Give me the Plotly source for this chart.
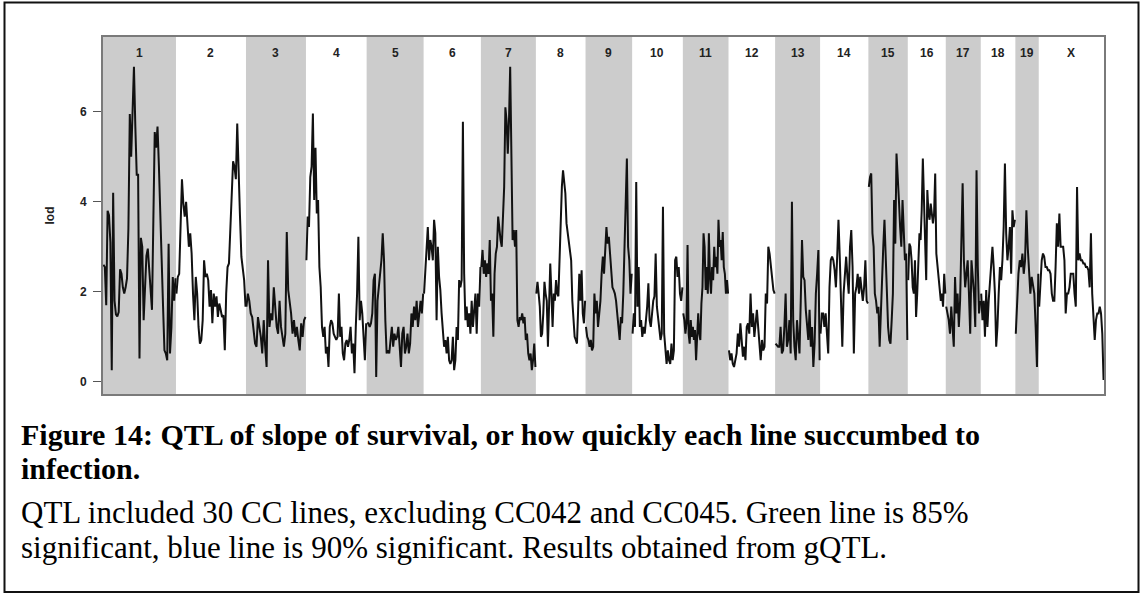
import plotly.graph_objects as go

# Chromosome names and lengths (Mb, including the inter-chromosome spacing)
chr_names = ["1", "2", "3", "4", "5", "6", "7", "8", "9", "10",
             "11", "12", "13", "14", "15", "16", "17", "18", "19", "X"]
chr_len = [197.5, 189.4, 162.3, 164.2, 154.2, 155.0, 148.8, 134.4, 126.1, 137.2,
           123.6, 126.1, 121.7, 130.7, 106.6, 102.8, 94.7, 93.6, 63.3, 176.6]

# LOD scores along each chromosome (markers evenly spaced within a chromosome)
lod_1 = [2.6, 2.55, 1.7, 3.8, 3.7, 3.1, 0.26, 4.2, 1.8, 1.5, 1.45, 1.55, 2.5, 2.4, 2.1,
         1.96, 2.1, 2.3, 3.4, 5.95, 5.0, 6.2, 7.0, 5.67, 4.6, 4.6, 0.52, 3.2, 3.0, 1.37,
         2.26, 2.8, 2.96, 2.55, 1.96, 1.6, 3.6, 5.55, 5.2, 5.67, 4.8, 3.96, 2.7, 1.67,
         0.7, 0.63, 0.48, 3.07, 0.63, 1.2, 2.33, 1.8, 2.3]
lod_2 = [1.96, 2.33, 2.4, 3.3, 4.5, 3.96, 3.67, 4.0, 3.44, 3.0, 3.3, 2.85, 1.96, 1.37,
         2.33, 1.96, 1.22, 0.85, 0.93, 1.37, 2.7, 2.33, 2.4, 2.26, 1.67, 2.04, 1.3, 1.96,
         1.67, 1.9, 1.44, 1.74, 1.6, 1.44, 1.48, 0.7, 1.96, 2.55, 2.63, 3.37, 3.8, 4.9,
         4.78, 4.5, 5.74, 4.5, 3.67, 2.78, 2.55, 2.26, 1.67]
lod_3 = [1.67, 1.96, 1.8, 1.52, 1.44, 1.07, 0.85, 0.78, 1.44, 1.22, 1.0, 0.63, 1.37, 0.78,
         0.33, 2.7, 1.22, 1.52, 1.37, 2.1, 1.52, 1.22, 1.07, 1.8, 1.22, 1.0, 0.78, 1.07,
         3.33, 2.04, 1.8, 1.52, 1.07, 1.37, 1.0, 1.22, 0.93, 0.7, 1.3, 1.0, 1.37, 1.44]
lod_4 = [2.7, 3.67, 3.44, 4.55, 4.78, 5.96, 4.04, 5.2, 3.74, 4.04, 2.55, 2.1, 1.22, 1.0,
         1.22, 0.63, 0.78, 0.33, 1.22, 1.37, 1.3, 1.07, 1.0, 0.93, 1.0, 1.96, 1.0, 1.22,
         0.63, 0.48, 0.85, 0.93, 0.78, 0.93, 1.22, 0.63, 0.85, 0.19, 1.22, 1.96, 3.22,
         1.37, 1.8, 1.52, 1.0, 0.48, 1.3]
lod_5 = [1.3, 1.3, 1.22, 1.3, 1.52, 2.26, 2.4, 0.11, 1.8, 2.1, 2.55, 2.7, 3.3, 2.7, 1.37,
         0.63, 0.7, 0.63, 0.93, 1.22, 0.78, 1.07, 0.93, 1.0, 1.22, 0.85, 0.33, 1.07, 1.22,
         0.63, 0.78, 1.07, 0.63, 0.85, 1.52, 1.22, 1.67, 1.37, 1.8, 1.22, 1.52, 1.8, 1.52,
         1.96]
lod_6 = [1.96, 2.55, 3.0, 3.44, 2.7, 3.15, 3.0, 2.7, 3.6, 3.3, 1.37, 3.0, 2.33, 2.04, 1.52,
         1.22, 0.78, 0.93, 0.63, 1.0, 0.48, 0.4, 0.48, 1.0, 0.26, 0.48, 1.22, 0.93, 2.26,
         2.1, 2.26, 5.78, 2.4, 1.37, 1.67, 1.22, 1.52, 1.07, 1.8, 1.22, 1.52, 1.96, 1.07,
         1.96, 1.67, 2.55]
lod_7 = [2.55, 2.93, 2.4, 2.7, 2.33, 2.63, 2.4, 3.15, 1.8, 1.96, 1.0, 2.4, 2.85, 3.0, 3.67,
         3.3, 3.15, 3.0, 3.6, 4.33, 6.1, 5.8, 5.07, 5.8, 7.0, 5.07, 3.15, 3.37, 3.0, 3.37,
         1.37, 1.22, 1.44, 1.37, 1.52, 1.3, 1.44, 0.93, 1.07, 0.63, 0.48, 0.63, 0.26, 0.48,
         0.85, 0.33]
lod_8 = [1.96, 2.22, 1.96, 1.67, 1.0, 1.07, 1.52, 2.22, 1.96, 1.8, 0.78, 1.52, 2.63, 1.96,
         1.22, 1.96, 1.8, 2.26, 1.96, 1.9, 2.85, 3.44, 4.33, 4.7, 4.33, 4.19, 3.52, 3.3,
         3.15, 3.0, 2.7, 1.8, 1.37, 1.0, 0.93, 0.85, 1.6, 2.4, 1.8, 2.48, 1.52, 1.3, 1.8]
lod_9 = [1.22, 1.0, 0.93, 0.78, 0.93, 0.7, 0.78, 1.96, 1.52, 1.8, 1.22, 1.52, 1.8, 2.4,
         2.78, 2.4, 2.85, 3.44, 3.07, 3.22, 2.85, 2.4, 2.1, 2.04, 1.96, 1.8, 1.44, 1.22,
         0.93, 1.44, 1.3, 1.96, 2.85, 3.52, 4.96, 3.0, 2.7, 1.96, 2.4]
lod_10 = [1.07, 1.52, 1.22, 4.44, 1.67, 2.55, 1.22, 1.37, 1.0, 1.22, 1.07, 1.37, 1.67, 2.19,
          1.37, 1.22, 1.52, 1.8, 1.9, 2.85, 1.67, 1.37, 1.22, 0.93, 1.07, 3.89, 1.07, 0.63,
          0.4, 0.7, 0.48, 0.4, 0.85, 0.48, 0.7, 2.7, 2.78, 2.33, 2.55, 1.96, 1.8, 2.1]
lod_11 = [1.52, 1.37, 1.07, 1.3, 3.04, 1.07, 0.85, 1.37, 1.0, 1.22, 0.93, 1.15, 0.48, 1.22,
          1.52, 1.07, 0.93, 1.74, 2.1, 3.3, 3.0, 2.04, 2.55, 1.96, 3.3, 2.33, 1.96, 2.55,
          2.26, 3.0, 2.55, 2.78, 2.4, 3.6, 3.0, 3.15, 2.7, 3.33, 2.55, 2.4, 1.96, 2.26, 1.96]
lod_12 = [0.7, 0.48, 0.63, 0.4, 0.33, 0.48, 0.63, 1.07, 0.78, 1.3, 0.93, 0.56, 0.78, 0.48,
          1.22, 1.3, 1.07, 1.96, 1.22, 1.52, 1.0, 1.37, 1.6, 1.22, 0.78, 0.48, 0.93, 0.7,
          0.78, 1.96, 1.74, 3.0, 2.85, 2.55, 2.4, 2.04, 1.96]
lod_13 = [0.85, 0.81, 0.78, 0.78, 1.22, 0.63, 0.7, 1.22, 1.96, 0.78, 0.93, 1.37, 0.63, 4.0,
          1.37, 0.78, 0.48, 1.37, 1.07, 0.63, 1.8, 3.15, 2.33, 2.26, 1.6, 1.22, 0.93, 1.6,
          0.78, 1.22, 0.33, 0.85, 1.96, 2.4, 2.93, 0.48]
lod_14 = [1.07, 1.52, 1.52, 1.22, 1.52, 0.93, 0.63, 2.1, 2.7, 2.78, 2.7, 2.48, 2.1, 2.78,
          3.6, 2.78, 1.96, 0.78, 1.96, 2.4, 2.78, 2.33, 1.96, 3.0, 3.37, 2.55, 0.63, 1.96,
          2.1, 2.4, 1.96, 2.33, 1.96, 1.8, 2.1, 2.7, 1.8, 1.74]
lod_15 = [4.33, 4.55, 4.63, 3.3, 3.0, 1.96, 1.8, 1.52, 1.67, 0.78, 1.52, 2.4, 3.0, 3.6, 2.7,
          1.96, 1.22, 0.93, 0.85, 1.37, 1.96, 4.04, 3.07, 5.07, 4.63, 4.04, 3.44, 3.0, 4.04,
          3.15, 2.7, 2.85, 0.93]
lod_16 = [2.26, 3.07, 3.0, 2.7, 2.1, 1.96, 2.7, 1.44, 1.96, 2.85, 3.3, 3.15, 3.81, 4.96, 3.6,
          3.15, 2.26, 4.26, 3.74, 3.6, 3.96, 3.67, 3.52, 3.74, 4.63, 2.85, 2.55, 2.4, 2.04,
          1.8, 1.96, 1.67, 2.4, 1.96]
lod_17 = [1.67, 1.52, 1.37, 1.07, 1.67, 1.22, 0.78, 2.33, 1.52, 1.96, 1.22, 1.8, 3.0, 4.41,
          2.7, 2.1, 2.4, 2.7, 1.96, 1.07, 2.7, 2.26, 1.96, 1.22, 4.7, 2.55, 1.52, 1.8]
lod_18 = [1.96, 1.37, 1.8, 1.0, 2.04, 1.22, 1.8, 2.26, 2.7, 3.0, 2.55, 1.96, 0.78, 1.22,
          1.96, 2.55, 2.26, 2.7, 3.44, 4.85, 3.3, 2.7, 3.0, 3.44, 2.4, 3.81, 3.44, 3.6]
lod_19 = [1.07, 1.96, 2.4, 2.7, 2.55, 2.85, 2.4, 2.7, 3.81, 3.0, 2.4, 1.96, 2.33, 2.1, 1.96,
          1.22, 0.33, 2.4]
lod_X = [1.67, 2.1, 2.7, 2.85, 2.78, 2.55, 2.55, 2.48, 2.48, 2.4, 1.96, 1.8, 1.8, 2.55,
         3.52, 3.0, 3.74, 3.0, 3.0, 3.0, 2.7, 1.52, 1.96, 1.96, 2.1, 2.4, 2.4, 2.4, 1.96,
         1.67, 4.33, 2.7, 2.85, 2.7, 2.7, 2.63, 2.63, 2.55, 2.55, 2.48, 2.1, 3.3, 1.96, 1.52,
         0.93, 1.37, 1.52, 1.52, 1.67, 1.52, 1.07, 0.04]

lod_by_chr = [lod_1, lod_2, lod_3, lod_4, lod_5, lod_6, lod_7, lod_8, lod_9, lod_10,
              lod_11, lod_12, lod_13, lod_14, lod_15, lod_16, lod_17, lod_18, lod_19, lod_X]

y_ticks = [0, 2, 4, 6]

caption_title = ["<b>Figure 14: QTL of slope of survival, or how quickly each line succumbed to</b>",
                 "<b>infection.</b>"]
caption_body = ["QTL included 30 CC lines, excluding CC042 and CC045. Green line is 85%",
                "significant, blue line is 90% significant. Results obtained from gQTL."]

# ---- figure geometry (pixels) ----
W, H = 1140, 594
L, R, T, B = 103, 1104, 37, 394
pw, ph = R - L, B - T


def px_x(px):
    return (px - L) / pw


def px_y(py):
    return (B - py) / ph


# chromosome start offsets along the genome axis
starts = []
acc = 0.0
for ln in chr_len:
    starts.append(acc)
    acc += ln
total = acc
pad = 1.2

xs, ys = [], []
for s, ln, vals in zip(starts, chr_len, lod_by_chr):
    n = len(vals)
    for i, v in enumerate(vals):
        xs.append(s + pad + (ln - 2 * pad) * i / (n - 1))
        ys.append(v)
    xs.append(None)
    ys.append(None)

fig = go.Figure()
fig.add_trace(go.Scatter(x=xs, y=ys, mode="lines",
                         line=dict(color="#111111", width=2.0),
                         connectgaps=False, hoverinfo="skip", showlegend=False))

shapes = []
annotations = []
for k, (s, ln, name) in enumerate(zip(starts, chr_len, chr_names)):
    if k % 2 == 0:
        shapes.append(dict(type="rect", xref="x", yref="paper", x0=s, x1=s + ln,
                           y0=0, y1=1, fillcolor="#cccccc", line=dict(width=0),
                           layer="below"))
    annotations.append(dict(x=s + ln / 2, y=px_y(53), xref="x", yref="paper",
                            text="<b>%s</b>" % name, showarrow=False,
                            font=dict(family="Liberation Sans", size=12, color="#222"),
                            xanchor="center", yanchor="middle"))

# y tick labels, set left of the outside tick marks
for v in y_ticks:
    annotations.append(dict(x=px_x(89), y=v, xref="paper", yref="y",
                            text="<b>%d</b>" % v, showarrow=False,
                            font=dict(family="Liberation Sans", size=12, color="#222"),
                            xanchor="right", yanchor="middle"))

# outer figure frame
shapes.append(dict(type="rect", xref="paper", yref="paper",
                   x0=px_x(4.5), x1=px_x(1138.5), y0=px_y(592), y1=px_y(2.5),
                   line=dict(color="#111", width=2), fillcolor="rgba(0,0,0,0)",
                   layer="above"))

annotations.append(dict(x=px_x(49), y=0.5, xref="paper", yref="paper",
                        text="<b>lod</b>", textangle=-90, showarrow=False,
                        font=dict(family="Liberation Sans", size=12, color="#222"),
                        xanchor="center", yanchor="middle"))

caption_rows = [(caption_title[0], 434, 30), (caption_title[1], 468, 30),
                (caption_body[0], 512, 31), (caption_body[1], 547, 31)]
for txt, yc, fs in caption_rows:
    annotations.append(dict(x=px_x(19), y=px_y(yc), xref="paper", yref="paper",
                            text=txt, showarrow=False, xanchor="left", yanchor="middle",
                            font=dict(family="Liberation Serif", size=fs, color="#000")))

fig.update_layout(
    width=W, height=H,
    margin=dict(l=L, r=W - R, t=T, b=H - B, pad=0),
    paper_bgcolor="white", plot_bgcolor="white",
    shapes=shapes, annotations=annotations,
    xaxis=dict(range=[0, total], showticklabels=False, ticks="", showgrid=False,
               zeroline=False, showline=True, mirror=True, linecolor="#7a7a7a",
               linewidth=1.5),
    yaxis=dict(range=[-0.27, 7.66], tickvals=y_ticks, showticklabels=False,
               ticks="outside", ticklen=8, tickwidth=1.3, tickcolor="#555",
               showgrid=False, zeroline=False, showline=True, mirror=True,
               linecolor="#7a7a7a", linewidth=1.5),
)

fig.write_html("out.html", config={"displayModeBar": False})
